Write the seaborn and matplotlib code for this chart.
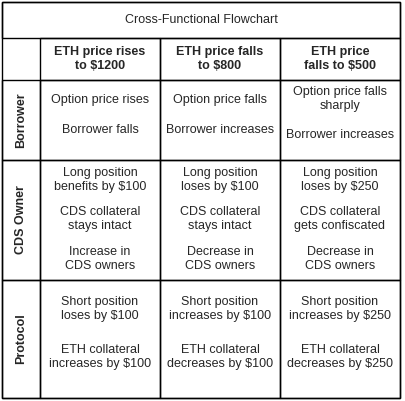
import matplotlib
matplotlib.use("Agg")
import matplotlib.pyplot as plt
import seaborn as sns

title = "Cross-Functional Flowchart"
col_headers = ["ETH price rises\nto $1200", "ETH price falls\nto $800", "ETH price\nfalls to $500"]
row_labels = ["Borrower", "CDS Owner", "Protocol"]
cells = [
    [["Option price rises", "Borrower falls"],
     ["Option price falls", "Borrower increases"],
     ["Option price falls\nsharply", "Borrower increases"]],
    [["Long position\nbenefits by $100", "CDS collateral\nstays intact", "Increase in\nCDS owners"],
     ["Long position\nloses by $100", "CDS collateral\nstays intact", "Decrease in\nCDS owners"],
     ["Long position\nloses by $250", "CDS collateral\ngets confiscated", "Decrease in\nCDS owners"]],
    [["Short position\nloses by $100", "ETH collateral\nincreases by $100"],
     ["Short position\nincreases by $100", "ETH collateral\ndecreases by $100"],
     ["Short position\nincreases by $250", "ETH collateral\ndecreases by $250"]],
]

sns.set_theme(style="white")
plt.rcParams['font.family'] = ['Liberation Sans', 'DejaVu Sans']

W, H = 406, 401
fig = plt.figure(figsize=(W / 100, H / 100), dpi=100)
ax = fig.add_axes([0, 0, 1, 1])
ax.set_xlim(0, W)
ax.set_ylim(H, 0)
ax.axis("off")

x_edges = [2, 40, 160, 280, 400]
y_edges = [2, 38, 80, 160, 280, 398]
# vertical text centres (pixels) per row / column
text_y = [
    [[100, 130], [100, 130], [99, 135]],
    [[180, 219, 259]] * 3,
    [[309, 357]] * 3,
]
lw = 1.0

def box(x0, y0, x1, y1):
    ax.add_patch(plt.Rectangle((x0, y0), x1 - x0, y1 - y0, fill=False, ec="black", lw=lw))

box(x_edges[0], y_edges[0], x_edges[-1], y_edges[-1])
box(x_edges[0], y_edges[0], x_edges[-1], y_edges[1])
ax.text((x_edges[0] + x_edges[-1]) / 2, (y_edges[0] + y_edges[1]) / 2, title,
        ha="center", va="center", fontsize=9)

for j, h in enumerate(col_headers):
    x0, x1 = x_edges[j + 1], x_edges[j + 2]
    box(x0, y_edges[1], x1, y_edges[2])
    ax.text((x0 + x1) / 2, (y_edges[1] + y_edges[2]) / 2, h, ha="center", va="center",
            fontsize=9, fontweight="bold", linespacing=1.15)

for i, lab in enumerate(row_labels):
    y0, y1 = y_edges[i + 2], y_edges[i + 3]
    box(x_edges[0], y0, x_edges[1], y1)
    ax.text((x_edges[0] + x_edges[1]) / 2, (y0 + y1) / 2, lab, ha="center", va="center",
            rotation=90, fontsize=9, fontweight="bold")
    for j in range(3):
        x0, x1 = x_edges[j + 1], x_edges[j + 2]
        box(x0, y0, x1, y1)
        for t, ty in zip(cells[i][j], text_y[i][j]):
            ax.text((x0 + x1) / 2, ty, t, ha="center", va="center",
                    fontsize=9, linespacing=1.15)

fig.savefig("out.png", dpi=100, facecolor="white")
